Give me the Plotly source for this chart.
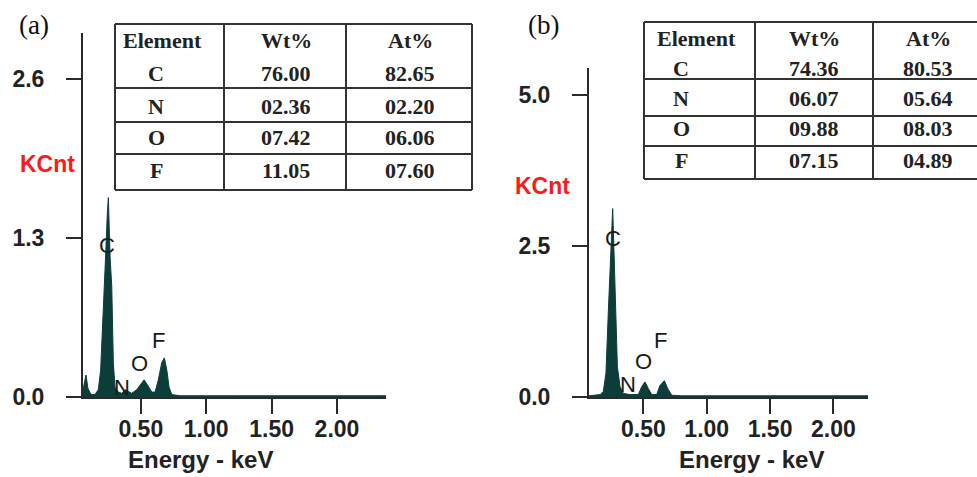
import plotly.graph_objects as go

# ---------------- data ----------------
energy_a = [0.058, 0.066, 0.081, 0.096, 0.119, 0.150, 0.175, 0.193, 0.214, 0.232, 0.244, 0.252,
            0.265, 0.278, 0.290, 0.303, 0.328, 0.355, 0.380, 0.431, 0.469, 0.507, 0.525, 0.550,
            0.584, 0.609, 0.634, 0.660, 0.680, 0.699, 0.716, 0.737, 0.80, 1.20, 1.80, 2.375]
counts_a = [0.06, 0.10, 0.18, 0.07, 0.02, 0.02, 0.06, 0.22, 0.69, 1.18, 1.50, 1.63,
            1.15, 0.90, 0.28, 0.08, 0.04, 0.03, 0.06, 0.03, 0.06, 0.12, 0.14, 0.10,
            0.04, 0.04, 0.14, 0.28, 0.32, 0.22, 0.08, 0.02, 0.01, 0.01, 0.01, 0.01]

energy_b = [0.071, 0.12, 0.16, 0.184, 0.205, 0.224, 0.237, 0.250, 0.258, 0.268, 0.282, 0.295,
            0.316, 0.342, 0.395, 0.460, 0.487, 0.513, 0.539, 0.566, 0.605, 0.631, 0.666,
            0.692, 0.724, 0.80, 1.20, 1.80, 2.273]
counts_b = [0.02, 0.03, 0.04, 0.09, 0.40, 1.44, 2.16, 2.82, 3.12, 2.43, 1.33, 0.50,
            0.17, 0.06, 0.04, 0.04, 0.17, 0.25, 0.14, 0.04, 0.04, 0.19, 0.27,
            0.14, 0.03, 0.02, 0.02, 0.02, 0.02]

peak_labels = ["C", "N", "O", "F"]
peak_x_a = [0.242, 0.355, 0.490, 0.637]
peak_y_a = [1.24, 0.08, 0.27, 0.46]
peak_x_b = [0.263, 0.376, 0.500, 0.639]
peak_y_b = [2.63, 0.20, 0.58, 0.94]

x_tickvals = [0.5, 1.0, 1.5, 2.0]
x_ticktext = ["0.50", "1.00", "1.50", "2.00"]
y_tickvals_a = [0.0, 1.3, 2.6]
y_ticktext_a = ["0.0", "1.3", "2.6"]
y_tickvals_b = [0.0, 2.5, 5.0]
y_ticktext_b = ["0.0", "2.5", "5.0"]

table_header = ["Element", "Wt%", "At%"]
elements = ["C", "N", "O", "F"]
wt_a = ["76.00", "02.36", "07.42", "11.05"]
at_a = ["82.65", "02.20", "06.06", "07.60"]
wt_b = ["74.36", "06.07", "09.88", "07.15"]
at_b = ["80.53", "05.64", "08.03", "04.89"]

# ---------------- layout helpers ----------------
W, H = 977, 477
def fx(px):
    return px / W
def fy(py):
    return 1 - py / H

FILL = "#0d3d39"
AX = "#2a2a2a"
TICKFONT = dict(family="Liberation Sans", size=23, color="#222222", weight="bold")

fig = go.Figure()
fig.add_trace(go.Scatter(x=energy_a, y=counts_a, mode="lines", fill="tozeroy",
                         line=dict(color=FILL, width=1), fillcolor=FILL,
                         xaxis="x", yaxis="y", showlegend=False, hoverinfo="skip"))
fig.add_trace(go.Scatter(x=energy_b, y=counts_b, mode="lines", fill="tozeroy",
                         line=dict(color=FILL, width=1), fillcolor=FILL,
                         xaxis="x2", yaxis="y2", showlegend=False, hoverinfo="skip"))

def xaxis(domain, rng, anchor):
    return dict(domain=domain, range=rng, anchor=anchor, showline=True, linecolor=AX,
                linewidth=2, ticks="outside", ticklen=15, tickwidth=2, tickcolor=AX,
                tickvals=x_tickvals, ticktext=x_ticktext, tickfont=TICKFONT,
                showgrid=False, zeroline=False, ticklabelstandoff=-5, fixedrange=True,
                automargin=False)

def yaxis(domain, rng, anchor, tv, tt):
    return dict(domain=domain, range=rng, anchor=anchor, showline=True, linecolor=AX,
                linewidth=2, ticks="outside", ticklen=15, tickwidth=2, tickcolor=AX,
                tickvals=tv, ticktext=tt, tickfont=TICKFONT,
                showgrid=False, zeroline=False, ticklabelstandoff=17, fixedrange=True,
                automargin=False)

fig.update_layout(
    width=W, height=H, autosize=False,
    margin=dict(l=0, r=0, t=0, b=0, pad=0),
    paper_bgcolor="white", plot_bgcolor="white",
    xaxis=xaxis([fx(83), fx(386)], [0.058, 2.375], "y"),
    yaxis=yaxis([fy(397), fy(33)], [0, 2.976], "x", y_tickvals_a, y_ticktext_a),
    xaxis2=xaxis([fx(589), fx(868)], [0.071, 2.273], "y2"),
    yaxis2=yaxis([fy(397), fy(68)], [0, 5.447], "x2", y_tickvals_b, y_ticktext_b),
)

annotations = []
shapes = []

# peak labels
for xr, yr, xs, ys in (("x", "y", peak_x_a, peak_y_a), ("x2", "y2", peak_x_b, peak_y_b)):
    for lab, xv, yv in zip(peak_labels, xs, ys):
        annotations.append(dict(x=xv, y=yv, xref=xr, yref=yr, text=lab, showarrow=False,
                                font=dict(family="Liberation Sans", size=22, color="#1a1a1a"),
                                xanchor="center", yanchor="middle"))

# axis titles, panel labels
for cx, cy in ((200, 459), (751, 459)):
    annotations.append(dict(x=fx(cx), y=fy(cy), xref="paper", yref="paper", text="Energy - keV",
                            showarrow=False, xanchor="center", yanchor="middle",
                            font=dict(family="Liberation Sans", size=24, color="#222222", weight="bold")))
for cx, cy in ((47, 164), (542, 186)):
    annotations.append(dict(x=fx(cx), y=fy(cy), xref="paper", yref="paper", text="KCnt",
                            showarrow=False, xanchor="center", yanchor="middle",
                            font=dict(family="Liberation Sans", size=23, color="#ff1a1a", weight="bold")))
for lab, cx, cy in (("(a)", 34, 25), ("(b)", 543, 25)):
    annotations.append(dict(x=fx(cx), y=fy(cy), xref="paper", yref="paper", text=lab,
                            showarrow=False, xanchor="center", yanchor="middle",
                            font=dict(family="Liberation Serif", size=27, color="#111111")))

# tables
def table(xs, ys, x_right_clip, header_y, row_y, col_cx, elem_cx, wt, at):
    lc = "#333333"
    x0, x3 = xs[0], min(xs[-1], x_right_clip)
    for y in ys:
        shapes.append(dict(type="line", xref="paper", yref="paper", x0=fx(x0), x1=fx(x3),
                           y0=fy(y), y1=fy(y), line=dict(color=lc, width=2)))
    for x in xs:
        if x <= x_right_clip:
            shapes.append(dict(type="line", xref="paper", yref="paper", x0=fx(x), x1=fx(x),
                               y0=fy(ys[0]), y1=fy(ys[-1]), line=dict(color=lc, width=2)))
    tf = dict(family="Liberation Serif", size=22, color="#222222", weight="bold")
    for txt, cx in zip(table_header, col_cx):
        annotations.append(dict(x=fx(cx), y=fy(header_y), xref="paper", yref="paper", text=txt,
                                showarrow=False, xanchor="center", yanchor="middle", font=tf))
    for el, w, a, ry in zip(elements, wt, at, row_y):
        for txt, cx in ((el, elem_cx), (w, col_cx[1]), (a, col_cx[2])):
            annotations.append(dict(x=fx(cx), y=fy(ry), xref="paper", yref="paper", text=txt,
                                    showarrow=False, xanchor="center", yanchor="middle", font=tf))

table([115, 224, 346, 472], [24, 88, 122, 154, 190], 977, 40, [73, 106, 138, 170],
      [162, 286, 410], 156, wt_a, at_a)
table([644, 755, 873, 983], [22, 79, 116, 146, 179], 977, 38, [68, 98, 129, 160],
      [696, 814, 928], 681, wt_b, at_b)

fig.update_layout(annotations=annotations, shapes=shapes)
fig.write_html("out.html", config={"displayModeBar": False, "staticPlot": True},
               post_script="document.body.style.margin='0px';document.body.style.overflow='hidden';")
